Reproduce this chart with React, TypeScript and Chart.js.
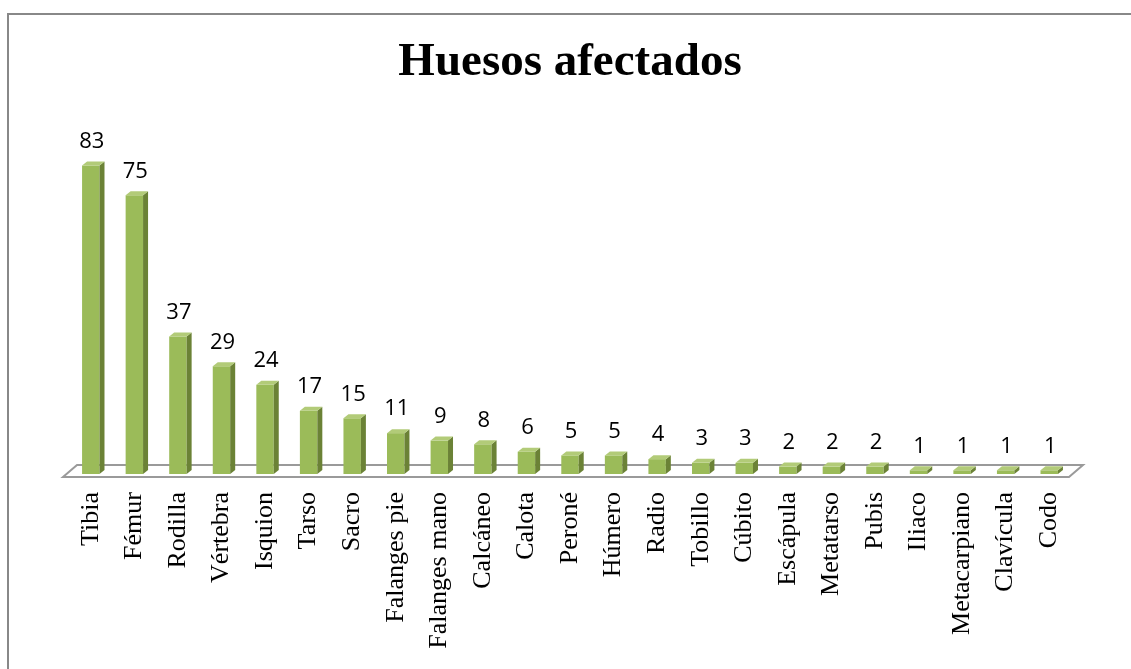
import React, { useEffect, useRef } from "react";
import { Chart, registerables } from "chart.js";

Chart.register(...registerables);

const categories = [
  "Tibia", "Fémur", "Rodilla", "Vértebra", "Isquion", "Tarso", "Sacro",
  "Falanges pie", "Falanges mano", "Calcáneo", "Calota", "Peroné", "Húmero",
  "Radio", "Tobillo", "Cúbito", "Escápula", "Metatarso", "Pubis", "Iliaco",
  "Metacarpiano", "Clavícula", "Codo",
];
const values = [83, 75, 37, 29, 24, 17, 15, 11, 9, 8, 6, 5, 5, 4, 3, 3, 2, 2, 2, 1, 1, 1, 1];
const chartTitle = "Huesos afectados";

const FRONT = "#9BBB59";
const SIDE = "#6B8236";
const TOP = "#B2CB78";
const DX = 5;
const DY = -4;

const framePlugin = {
  id: "frame",
  beforeDraw(chart: any) {
    const ctx = chart.ctx;
    ctx.save();
    ctx.fillStyle = "#ffffff";
    ctx.fillRect(0, 0, chart.width, chart.height);
    ctx.fillStyle = "#888888";
    ctx.fillRect(7, 13, chart.width - 7, 2);
    ctx.fillRect(7, 13, 2, chart.height - 13);
    ctx.restore();
  },
};

const floorPlugin = {
  id: "floor",
  beforeDatasetsDraw(chart: any) {
    const ctx = chart.ctx;
    const a = chart.chartArea;
    const base = chart.scales.y.getPixelForValue(0);
    ctx.save();
    ctx.beginPath();
    ctx.moveTo(a.left - 6, base + 3);
    ctx.lineTo(a.left + 8, base - 9);
    ctx.lineTo(a.right + 12, base - 9);
    ctx.lineTo(a.right - 2, base + 3);
    ctx.closePath();
    ctx.fillStyle = "#ffffff";
    ctx.fill();
    ctx.lineWidth = 2;
    ctx.strokeStyle = "#9a9a9a";
    ctx.stroke();
    ctx.restore();
  },
};

const bar3dPlugin = {
  id: "bar3d",
  afterDatasetsDraw(chart: any) {
    const ctx = chart.ctx;
    const meta = chart.getDatasetMeta(0);
    ctx.save();
    meta.data.forEach((bar: any, i: number) => {
      const { x, y, base, width } = bar.getProps(["x", "y", "base", "width"], true);
      const l = x - width / 2;
      const r = x + width / 2;
      ctx.beginPath();
      ctx.moveTo(r, y);
      ctx.lineTo(r + DX, y + DY);
      ctx.lineTo(r + DX, base + DY);
      ctx.lineTo(r, base);
      ctx.closePath();
      ctx.fillStyle = SIDE;
      ctx.fill();
      ctx.beginPath();
      ctx.moveTo(l, y);
      ctx.lineTo(l + DX, y + DY);
      ctx.lineTo(r + DX, y + DY);
      ctx.lineTo(r, y);
      ctx.closePath();
      ctx.fillStyle = TOP;
      ctx.fill();
      ctx.fillStyle = "#000000";
      ctx.font = "22px 'Open Sans', 'Noto Sans', sans-serif";
      ctx.textAlign = "center";
      ctx.textBaseline = "middle";
      ctx.fillText(String(values[i]), x + 1, y - 24);
    });
    ctx.restore();
  },
};

export default function App() {
  const ref = useRef<HTMLCanvasElement | null>(null);
  useEffect(() => {
    if (!ref.current) return;
    const chart = new Chart(ref.current, {
      type: "bar",
      data: {
        labels: categories,
        datasets: [
          {
            data: values,
            backgroundColor: FRONT,
            borderWidth: 0,
            barPercentage: 0.4,
            categoryPercentage: 1,
          },
        ],
      },
      options: {
        animation: false,
        responsive: false,
        maintainAspectRatio: false,
        layout: { padding: { left: 69, right: 60, top: 0, bottom: 0 } },
        plugins: {
          legend: { display: false },
          tooltip: { enabled: false },
          title: {
            display: true,
            text: chartTitle,
            color: "#000000",
            font: { family: "'Liberation Serif', 'Times New Roman', serif", size: 47, weight: "bold", lineHeight: 1.2 },
            padding: { top: 35, bottom: 29.6 },
          },
        },
        scales: {
          x: {
            grid: { display: false, drawTicks: false },
            border: { display: false },
            ticks: {
              color: "#000000",
              font: { family: "'Liberation Serif', 'Times New Roman', serif", size: 26 },
              minRotation: 90,
              maxRotation: 90,
              padding: 18,
              autoSkip: false,
            },
            afterFit: (scale: any) => {
              scale.height = 195;
            },
          },
          y: {
            display: false,
            min: 0,
            max: 95,
          },
        },
      },
      plugins: [framePlugin, floorPlugin, bar3dPlugin],
    });
    return () => chart.destroy();
  }, []);
  return (
    <div style={{ position: "fixed", left: 0, top: 0, width: 1131, height: 669 }}>
      <canvas ref={ref} width={1131} height={669} style={{ display: "block", width: 1131, height: 669 }} />
    </div>
  );
}
